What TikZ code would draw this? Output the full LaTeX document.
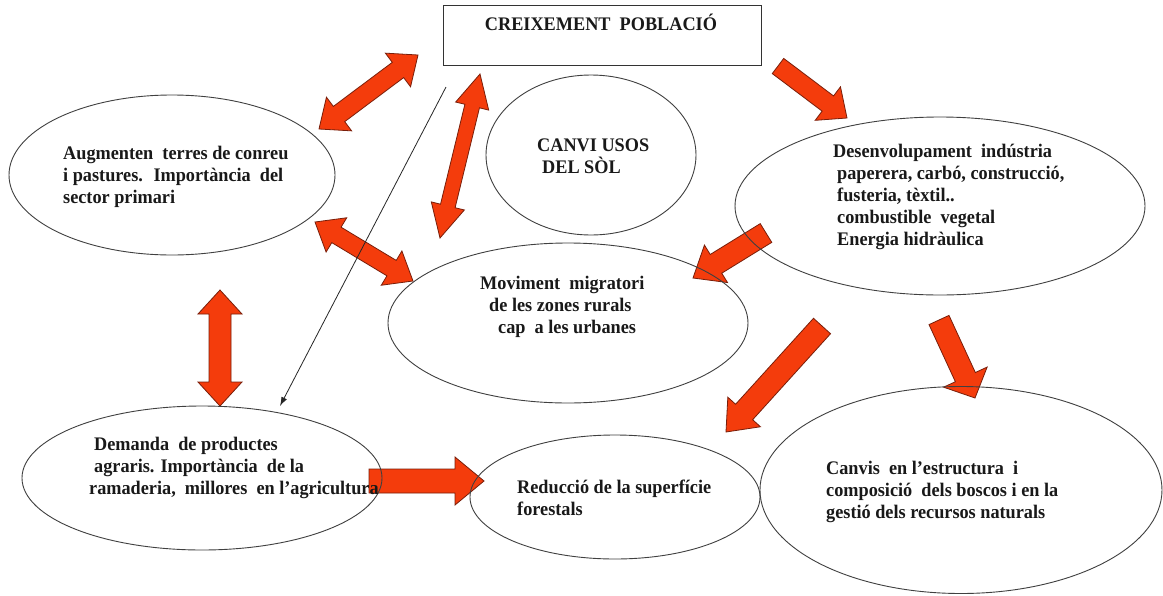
\documentclass[tikz,border=0pt]{standalone}
\usepackage{fontspec}
\setmainfont[FakeStretch=0.95]{Liberation Serif}
\usetikzlibrary{calc,arrows.meta,shapes.geometric}
\definecolor{arrfill}{RGB}{244,60,12}
\definecolor{arredge}{RGB}{120,30,10}
% single block arrow: tail, tip, shaft half width, head half width, head length
\newcommand\sarrow[5]{%
  \coordinate (hb) at ($(#2)!#5!(#1)$);
  \draw[blockarrow] ($(#1)!#3!90:(#2)$) -- ($(hb)!#3!90:(#2)$) -- ($(hb)!#4!90:(#2)$) -- (#2)
     -- ($(hb)!#4!-90:(#2)$) -- ($(hb)!#3!-90:(#2)$) -- ($(#1)!#3!-90:(#2)$) -- cycle;}
% double block arrow
\newcommand\darrow[5]{%
  \coordinate (hbb) at ($(#2)!#5!(#1)$);
  \coordinate (hba) at ($(#1)!#5!(#2)$);
  \draw[blockarrow] (#1) -- ($(hba)!#4!90:(#2)$) -- ($(hba)!#3!90:(#2)$) -- ($(hbb)!#3!90:(#2)$)
     -- ($(hbb)!#4!90:(#2)$) -- (#2) -- ($(hbb)!#4!-90:(#2)$) -- ($(hbb)!#3!-90:(#2)$)
     -- ($(hba)!#3!-90:(#2)$) -- ($(hba)!#4!-90:(#2)$) -- cycle;}
\begin{document}
\begin{tikzpicture}[x=1pt,y=-1pt,
  ell/.style={draw=black!75, line width=0.9pt, ellipse, inner sep=0pt},
  txt/.style={font=\bfseries\fontsize{19.2}{22.2}\selectfont, align=left, inner sep=0pt, text=black!90},
  blockarrow/.style={fill=arrfill, draw=arredge, line width=0.8pt, line join=miter},
  thinline/.style={draw=black!85, line width=0.8pt, -{Latex[length=9pt,width=6pt]}}]
\useasboundingbox[fill=white] (0,0) rectangle (1163,595);

% arrow end points
\coordinate (a1s) at (319,129); \coordinate (a1e) at (418,55);
\coordinate (a2s) at (440,238); \coordinate (a2e) at (480,74);
\coordinate (a3s) at (778,66);  \coordinate (a3e) at (847,118);
\coordinate (a4s) at (315,222); \coordinate (a4e) at (413,281);
\coordinate (a5s) at (766,233); \coordinate (a5e) at (693,278);
\coordinate (a6s) at (220,290); \coordinate (a6e) at (220,406);
\coordinate (a7s) at (369,481); \coordinate (a7e) at (484,481);
\coordinate (a8s) at (822,326); \coordinate (a8e) at (726,432);
\coordinate (a9s) at (939,320); \coordinate (a9e) at (975,398);
\coordinate (t1) at (446,87);   \coordinate (t2) at (280,406);

% block arrows (drawn first, outlines and texts lie over them)
\darrow{a1s}{a1e}{9.5pt}{21pt}{25pt}
\darrow{a2s}{a2e}{7.5pt}{17pt}{33pt}
\sarrow{a3s}{a3e}{9.5pt}{21pt}{24pt}
\darrow{a4s}{a4e}{9pt}{20pt}{25pt}
\sarrow{a5s}{a5e}{11pt}{22pt}{27pt}
\darrow{a6s}{a6e}{11pt}{22pt}{24pt}
\sarrow{a7s}{a7e}{12pt}{24pt}{29pt}
\sarrow{a8s}{a8e}{11.5pt}{22pt}{27pt}
\sarrow{a9s}{a9e}{11pt}{24pt}{23pt}

% box
\node[draw=black!80, line width=1pt, minimum width=318pt, minimum height=60pt, inner sep=0pt] (box) at (602,35) {};
\node[txt, anchor=base] (boxt) at (601,30.5) {CREIXEMENT~ POBLACIÓ};

% ellipses
\node[ell, minimum width=326pt, minimum height=160pt] (A) at (172,175) {};
\node[ell, minimum width=210pt, minimum height=160pt] (U) at (591,155) {};
\node[ell, minimum width=410pt, minimum height=178pt] (D) at (940,206) {};
\node[ell, minimum width=360pt, minimum height=160pt] (M) at (568,323) {};
\node[ell, minimum width=360pt, minimum height=144pt] (G) at (202,478) {};
\node[ell, minimum width=290pt, minimum height=124pt] (R) at (615,497) {};
\node[ell, minimum width=402pt, minimum height=207pt] (C) at (961,490) {};

% texts
\node[txt, anchor=west] (At) at (63,177) {Augmenten~ terres de conreu\\i pastures.~ Importància~ del\\sector primari};
\node[txt, anchor=west] (Ut) at (537,156) {CANVI USOS\\\hspace{5pt}DEL SÒL};
\node[txt, anchor=west] (Dt) at (833,197) {Desenvolupament~ indústria\\\hspace{4pt}paperera, carbó, construcció,\\\hspace{4pt}fusteria, tèxtil..\\\hspace{4pt}combustible~ vegetal\\\hspace{4pt}Energia hidràulica};
\node[txt, anchor=west] (Mt) at (480,307) {Moviment~ migratori\\\hspace{9pt}de les zones rurals\\\hspace{18pt}cap~ a les urbanes};
\node[txt, anchor=west] (Gt) at (89,468) {\hspace{5pt}Demanda~ de productes\\\hspace{5pt}agraris. Importància~ de la\\ramaderia,~ millores~ en l’agricultura};
\node[txt, anchor=west] (Rt) at (517,498) {Reducció de la superfície\\forestals};
\node[txt, anchor=west] (Ct) at (826,492) {Canvis~ en l’estructura~ i\\composició~ dels boscos i en la\\gestió dels recursos naturals};

% thin connector
\draw[thinline] (t1) -- (t2);
\end{tikzpicture}
\end{document}
